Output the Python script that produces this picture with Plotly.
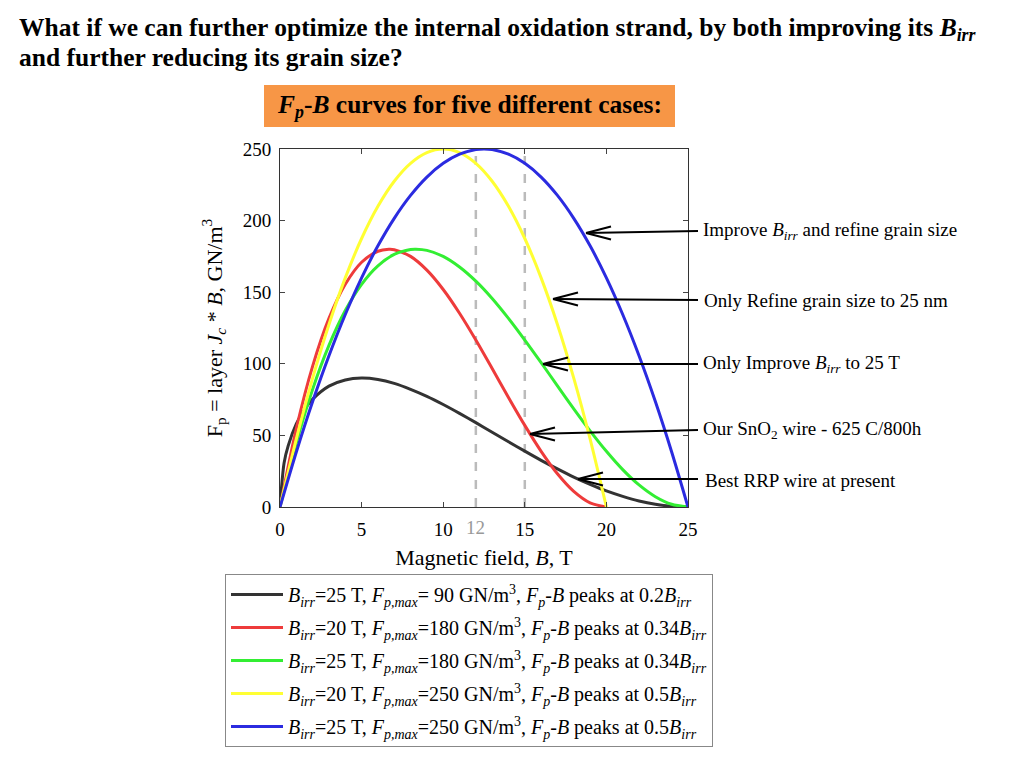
import plotly.graph_objects as go

# ---------------- data ----------------
B_black = [0, 0.25, 0.5, 1, 1.5, 2, 3, 4, 5, 6, 7, 8, 9, 10, 11, 12, 13, 14, 15, 16, 17, 18, 19, 20, 21, 22, 23, 24, 25]
F_black = [0, 30.8, 42.7, 58.0, 68.1, 75.3, 84.4, 88.7, 90.0, 89.0, 86.3, 82.2, 77.3, 71.6, 65.4, 58.9, 52.2, 45.6,
           39.0, 32.6, 26.6, 20.9, 15.8, 11.2, 7.4, 4.2, 1.9, 0.5, 0]

B_red = [0, 1, 2, 3, 4, 5, 6, 6.67, 7, 8, 9, 10, 11, 12, 13, 14, 15, 16, 17, 18, 19, 20]
F_red = [0, 54.8, 98.4, 131.7, 155.5, 170.9, 178.6, 180.0, 179.7, 175.0, 165.4, 151.9, 135.3, 116.6, 96.7, 76.5,
         57.0, 38.9, 23.2, 10.9, 2.9, 0]

B_green = [0, 1, 2, 3, 4, 5, 6, 7, 8, 8.33, 9, 10, 11, 12, 13, 14, 15, 16, 17, 18, 19, 20, 21, 22, 23, 24, 25]
F_green = [0, 44.8, 82.3, 112.9, 137.2, 155.5, 168.4, 176.4, 179.8, 180.0, 179.2, 175.0, 167.6, 157.7, 145.6, 131.7,
           116.6, 100.8, 84.6, 68.6, 53.2, 38.9, 26.1, 15.4, 7.2, 1.9, 0]

B_yellow = [0, 1, 2, 3, 4, 5, 6, 7, 8, 9, 10, 11, 12, 13, 14, 15, 16, 17, 18, 19, 20]
F_yellow = [0, 47.5, 90, 127.5, 160, 187.5, 210, 227.5, 240, 247.5, 250, 247.5, 240, 227.5, 210, 187.5, 160, 127.5,
            90, 47.5, 0]

B_blue = [0, 1, 2, 3, 4, 5, 6, 7, 8, 9, 10, 11, 12, 12.5, 13, 14, 15, 16, 17, 18, 19, 20, 21, 22, 23, 24, 25]
F_blue = [0, 38.4, 73.6, 105.6, 134.4, 160, 182.4, 201.6, 217.6, 230.4, 240, 246.4, 249.6, 250, 249.6, 246.4, 240,
          230.4, 217.6, 201.6, 182.4, 160, 134.4, 105.6, 73.6, 38.4, 0]

legend_names = [
    "<i>B</i><sub><i>irr</i></sub>=25 T, <i>F</i><sub><i>p,max</i></sub>= 90 GN/m<sup>3</sup>, <i>F</i><sub><i>p</i></sub>-<i>B</i> peaks at 0.2<i>B</i><sub><i>irr</i></sub>",
    "<i>B</i><sub><i>irr</i></sub>=20 T, <i>F</i><sub><i>p,max</i></sub>=180 GN/m<sup>3</sup>, <i>F</i><sub><i>p</i></sub>-<i>B</i> peaks at 0.34<i>B</i><sub><i>irr</i></sub>",
    "<i>B</i><sub><i>irr</i></sub>=25 T, <i>F</i><sub><i>p,max</i></sub>=180 GN/m<sup>3</sup>, <i>F</i><sub><i>p</i></sub>-<i>B</i> peaks at 0.34<i>B</i><sub><i>irr</i></sub>",
    "<i>B</i><sub><i>irr</i></sub>=20 T, <i>F</i><sub><i>p,max</i></sub>=250 GN/m<sup>3</sup>, <i>F</i><sub><i>p</i></sub>-<i>B</i> peaks at 0.5<i>B</i><sub><i>irr</i></sub>",
    "<i>B</i><sub><i>irr</i></sub>=25 T, <i>F</i><sub><i>p,max</i></sub>=250 GN/m<sup>3</sup>, <i>F</i><sub><i>p</i></sub>-<i>B</i> peaks at 0.5<i>B</i><sub><i>irr</i></sub>",
]

arrow_labels = [
    "Improve <i>B</i><sub><i>irr</i></sub> and refine grain size",
    "Only Refine grain size to 25 nm",
    "Only Improve <i>B</i><sub><i>irr</i></sub> to 25 T",
    "Our SnO<sub>2</sub> wire - 625 C/800h",
    "Best RRP wire at present",
]

dashed_B = [12, 15]
x_ticks = [0, 5, 10, 15, 20, 25]
y_ticks = [0, 50, 100, 150, 200, 250]

# ---------------- styling / layout ----------------
OFF = 8                       # page body margin of the browser
W, H = 1024 - OFF, 768 - OFF
FONT = "Liberation Serif, Times New Roman, serif"
colors = ["#333333", "#ee3b3b", "#33ee33", "#ffff33", "#2b2be0"]


def px(x):
    return (x - OFF) / W


def py(y):
    return 1 - (y - OFF) / H


fig = go.Figure()
series = [(B_black, F_black), (B_red, F_red), (B_green, F_green), (B_yellow, F_yellow), (B_blue, F_blue)]
for i, ((bx, fy), name, c) in enumerate(zip(series, legend_names, colors)):
    fig.add_trace(go.Scatter(
        x=bx, y=fy, mode="lines", name=name,
        line=dict(color=c, width=3, shape="spline", smoothing=0.8),
        legendgroup=f"g{i}", hoverinfo="skip",
    ))

shapes = []
for b in dashed_B:
    shapes.append(dict(type="line", xref="x", yref="y", x0=b, x1=b, y0=0, y1=250,
                       line=dict(color="#bbbbbb", width=2.5, dash="dash"), layer="below"))

# orange header box
shapes.append(dict(type="rect", xref="paper", yref="paper", x0=px(264), x1=px(675), y0=py(127), y1=py(85),
                   fillcolor="#F79646", line=dict(width=0), layer="below"))

# arrows: (head x, head y, tail x, tail y) in pixels
arrow_geom = [(586, 233, 698, 231), (553, 299, 698, 300), (543, 364, 698, 364), (530, 434, 698, 430),
              (578, 479, 698, 479)]
label_pos = [(701, 231), (702, 300), (701, 364), (701, 430), (703, 480)]
for (hx, hy, tx, ty) in arrow_geom:
    shapes.append(dict(type="line", xref="paper", yref="paper", x0=px(hx), y0=py(hy), x1=px(tx), y1=py(ty),
                       line=dict(color="black", width=2)))
    for s in (-1, 1):
        shapes.append(dict(type="line", xref="paper", yref="paper", x0=px(hx), y0=py(hy), x1=px(hx + 25),
                           y1=py(hy + s * 6.5), line=dict(color="black", width=2)))

annotations = []
for txt, (lx, ly) in zip(arrow_labels, label_pos):
    annotations.append(dict(text=txt, xref="paper", yref="paper", x=px(lx), y=py(ly), xanchor="left",
                            yanchor="middle", showarrow=False, font=dict(family=FONT, size=19, color="black")))

annotations += [
    dict(text="<b>What if we can further optimize the internal oxidation strand, by both improving its <i>B</i><sub><i>irr</i></sub></b>",
         xref="paper", yref="paper", x=px(17), y=py(29), xanchor="left", yanchor="middle", showarrow=False,
         font=dict(family=FONT, size=25.5, color="black")),
    dict(text="<b>and further reducing its grain size?</b>",
         xref="paper", yref="paper", x=px(17), y=py(57), xanchor="left", yanchor="middle", showarrow=False,
         font=dict(family=FONT, size=25.5, color="black")),
    dict(text="<b><i>F</i><sub><i>p</i></sub>-<i>B</i> curves for five different cases:</b>",
         xref="paper", yref="paper", x=px(469), y=py(106), xanchor="center", yanchor="middle", showarrow=False,
         font=dict(family=FONT, size=25.5, color="black")),
    dict(text="12", xref="x", yref="paper", x=12, y=py(527), xanchor="center", yanchor="middle", showarrow=False,
         font=dict(family=FONT, size=19, color="#999999")),
]

fig.update_layout(
    width=W, height=H,
    margin=dict(l=0, r=0, t=0, b=0, autoexpand=False),
    paper_bgcolor="white", plot_bgcolor="white",
    font=dict(family=FONT, size=19, color="black"),
    shapes=shapes, annotations=annotations,
    xaxis=dict(domain=[px(280), px(688)], range=[0, 25], tickvals=x_ticks, ticks="inside", ticklen=5,
               showline=True, linecolor="#333333", linewidth=1, mirror="ticks", showgrid=False, zeroline=False,
               tickfont=dict(size=19), automargin=False, ticklabelstandoff=5,
               title=dict(text="Magnetic field, <i>B</i>, T", font=dict(size=22), standoff=10)),
    yaxis=dict(domain=[py(507), py(149)], range=[0, 250], tickvals=y_ticks, ticks="inside", ticklen=5,
               showline=True, linecolor="#333333", linewidth=1, mirror="ticks", showgrid=False, zeroline=False,
               tickfont=dict(size=19), automargin=False, ticklabelstandoff=4,
               title=dict(text="F<sub>p</sub> = layer <i>J</i><sub><i>c</i></sub> * <i>B</i>, GN/m<sup>3</sup>",
                          font=dict(size=22), standoff=14)),
    showlegend=True,
    legend=dict(x=px(225), y=py(574), xanchor="left", yanchor="top", bordercolor="#888888", borderwidth=1,
                bgcolor="white", font=dict(family=FONT, size=20), tracegroupgap=4, itemwidth=52),
)

fig.write_html("out.html")
